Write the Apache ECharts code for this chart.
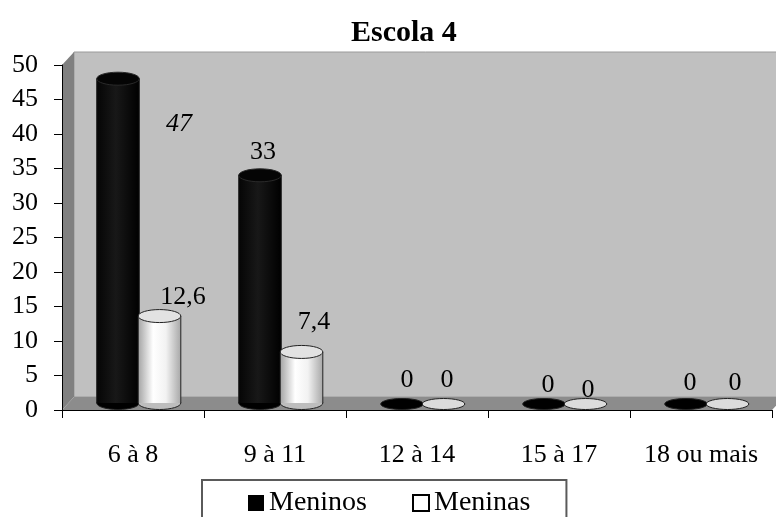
<!DOCTYPE html>
<html>
<head>
<meta charset="utf-8">
<script src="https://cdn.jsdelivr.net/npm/echarts@6/dist/echarts.min.js"></script>
<style>
  html, body { margin: 0; padding: 0; background: #fff; }
  #chart { width: 776px; height: 517px; }
</style>
</head>
<body>
<div id="chart"></div>
<script>
// Age groups and counts per group
const categories = ['6 à 8', '9 à 11', '12 à 14', '15 à 17', '18 ou mais'];
const meninos = [47, 33, 0, 0, 0];
const meninas = [12.6, 7.4, 0, 0, 0];
const yMin = 0, yMax = 50, yStep = 5;

// Label nudges (px) relative to the category centre and the value level
const meninosLabelShift = [[46, 38], [-12, -30], [-10, -30], [-11, -25], [-11, -27]];
const meninasLabelShift = [[50, -26], [39, -37], [30, -30], [29, -20], [34, -27]];

const SERIF = '"Liberation Serif", "Times New Roman", serif';
const DEPTH_X = 12, DEPTH_Y = 13;   // 3D wall depth
const LIFT = 7;                      // cylinders sit mid-depth on the floor

function fmt(v) { return String(v).replace('.', ','); }

// Walls and floor of the 3D plot box
function renderFrame(params, api) {
  const cs = params.coordSys;
  const x0 = cs.x, y0 = cs.y, x1 = cs.x + cs.width, y1 = cs.y + cs.height;
  return {
    type: 'group',
    children: [
      { type: 'rect', shape: { x: x0 + DEPTH_X, y: y0 - DEPTH_Y, width: cs.width, height: cs.height },
        style: { fill: '#c0c0c0', stroke: '#9a9a9a', lineWidth: 1 } },
      { type: 'polygon', shape: { points: [[x0, y0], [x0 + DEPTH_X, y0 - DEPTH_Y], [x0 + DEPTH_X, y1 - DEPTH_Y], [x0, y1]] },
        style: { fill: '#808080' } },
      { type: 'polygon', shape: { points: [[x0, y1], [x0 + DEPTH_X, y1 - DEPTH_Y], [x1 + DEPTH_X, y1 - DEPTH_Y], [x1, y1]] },
        style: { fill: '#8c8c8c' } }
    ]
  };
}

function makeCylinderRenderer(kind, dxCenter, shifts) {
  return function (params, api) {
    const i = api.value(0);
    const v = api.value(1);
    const band = api.size([1, 0])[0];
    const w = band * 0.30;
    const base = api.coord([i, 0]);
    const top = api.coord([i, v]);
    const cx = base[0] + dxCenter;
    const yb = base[1] - LIFT;
    const yt = top[1] - LIFT;
    const rx = w / 2;
    const children = [];
    const dark = kind === 'dark';
    if (v > 0) {
      const ry = 6.5;
      const bodyFill = dark
        ? { type: 'linear', x: 0, y: 0, x2: 1, y2: 0, colorStops: [
            { offset: 0, color: '#050505' }, { offset: 0.45, color: '#181818' }, { offset: 1, color: '#000' }] }
        : { type: 'linear', x: 0, y: 0, x2: 1, y2: 0, colorStops: [
            { offset: 0, color: '#a4a4a4' }, { offset: 0.35, color: '#ffffff' },
            { offset: 0.65, color: '#f2f2f2' }, { offset: 1, color: '#a8a8a8' }] };
      children.push({ type: 'ellipse', shape: { cx: cx, cy: yb, rx: rx, ry: ry },
        style: { fill: dark ? '#000' : '#bdbdbd', stroke: '#222', lineWidth: 1 } });
      children.push({ type: 'rect', shape: { x: cx - rx, y: yt, width: w, height: yb - yt },
        style: { fill: bodyFill } });
      children.push({ type: 'line', shape: { x1: cx - rx, y1: yt, x2: cx - rx, y2: yb }, style: { stroke: '#222', lineWidth: 1 } });
      children.push({ type: 'line', shape: { x1: cx + rx, y1: yt, x2: cx + rx, y2: yb }, style: { stroke: '#222', lineWidth: 1 } });
      children.push({ type: 'ellipse', shape: { cx: cx, cy: yt, rx: rx, ry: ry },
        style: { fill: dark ? '#050505' : '#e2e2e2', stroke: dark ? '#2a2a2a' : '#222', lineWidth: 1 } });
    } else {
      children.push({ type: 'ellipse', shape: { cx: cx, cy: yb + 1, rx: rx, ry: 5.5 },
        style: { fill: dark ? '#000' : '#dcdcdc', stroke: '#222', lineWidth: 1 } });
    }
    const s = shifts[i];
    const catCenter = base[0];
    children.push({
      type: 'text',
      x: catCenter + s[0], y: top[1] + s[1],
      style: {
        text: fmt(v), fill: '#000', font: (dark && i === 0 ? 'italic ' : '') + '26px ' + SERIF,
        align: 'center', verticalAlign: 'middle'
      }
    });
    return { type: 'group', children: children };
  };
}

const chart = echarts.init(document.getElementById('chart'), null, { renderer: 'canvas' });
chart.setOption({
  animation: false,
  backgroundColor: '#fff',
  title: {
    text: 'Escola 4', left: 346, top: 13,
    textStyle: { fontFamily: SERIF, fontWeight: 'bold', fontSize: 30, color: '#000' }
  },
  legend: {
    left: 202, top: 480,
    padding: [9, 36, 9, 46],
    itemGap: 45, itemWidth: 16, itemHeight: 16,
    borderColor: '#5a5a5a', borderWidth: 2, backgroundColor: '#fff',
    textStyle: { fontFamily: SERIF, fontSize: 28, color: '#000' },
    data: [
      { name: 'Meninos', icon: 'rect', itemStyle: { color: '#000', borderWidth: 0 } },
      { name: 'Meninas', icon: 'rect', itemStyle: { color: '#fff', borderColor: '#000', borderWidth: 2 } }
    ]
  },
  grid: { left: 62, right: 4, top: 65, bottom: 107, containLabel: false },
  xAxis: {
    type: 'category', data: categories, z: 5,
    axisLine: { lineStyle: { color: '#000', width: 1 } },
    axisTick: { show: true, length: 8, lineStyle: { color: '#000' } },
    axisLabel: { fontFamily: SERIF, fontSize: 26, color: '#000', margin: 32, interval: 0 },
    splitLine: { show: false }
  },
  yAxis: {
    type: 'value', min: yMin, max: yMax, interval: yStep, z: 5,
    axisLine: { show: true, lineStyle: { color: '#000', width: 1 } },
    axisTick: { show: true, length: 8, lineStyle: { color: '#000' } },
    axisLabel: { fontFamily: SERIF, fontSize: 26, color: '#000', margin: 24 },
    splitLine: { show: false }
  },
  series: [
    { type: 'custom', name: 'frame', silent: true, z: 0, renderItem: renderFrame, data: [[0, 0]] },
    {
      type: 'custom', name: 'Meninos', z: 2,
      itemStyle: { color: '#000' },
      renderItem: makeCylinderRenderer('dark', -15, meninosLabelShift),
      data: meninos.map(function (v, i) { return [i, v]; })
    },
    {
      type: 'custom', name: 'Meninas', z: 3,
      itemStyle: { color: '#fff' },
      renderItem: makeCylinderRenderer('light', 26.5, meninasLabelShift),
      data: meninas.map(function (v, i) { return [i, v]; })
    }
  ]
});
</script>
</body>
</html>
